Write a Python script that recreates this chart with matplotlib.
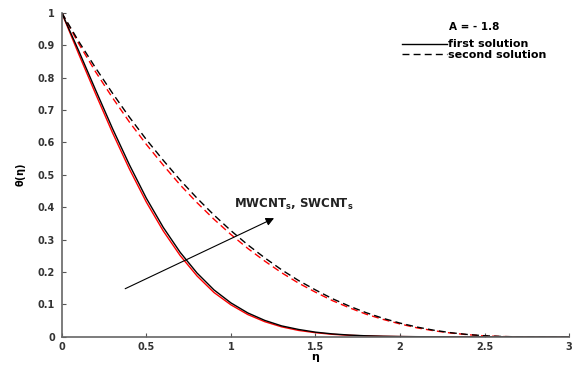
import matplotlib
matplotlib.use('Agg')
import matplotlib.pyplot as plt

plt.rcParams['font.family'] = ['DejaVu Sans']
plt.rcParams['mathtext.fontset'] = 'dejavusans'

eta = [i / 10 for i in range(31)]

# first solution (black = MWCNTs, red = SWCNTs)
first_black = [1.0, 0.883, 0.762, 0.643, 0.531, 0.428, 0.338, 0.261, 0.197, 0.145,
               0.105, 0.074, 0.051, 0.034, 0.023, 0.0147, 0.0093, 0.0057, 0.0034, 0.002,
               0.0012, 0.0007, 0.0004, 0.0002, 0.0001, 0, 0, 0, 0, 0, 0]
first_red = [1.0, 0.873, 0.750, 0.630, 0.518, 0.416, 0.327, 0.251, 0.188, 0.137,
             0.099, 0.069, 0.047, 0.031, 0.020, 0.013, 0.008, 0.005, 0.003, 0.0017,
             0.001, 0.0006, 0.0003, 0.0002, 0.0001, 0, 0, 0, 0, 0, 0]

# second solution
second_black = [1.0, 0.912, 0.830, 0.752, 0.678, 0.609, 0.545, 0.484, 0.428, 0.376,
                0.328, 0.284, 0.244, 0.207, 0.174, 0.145, 0.118, 0.095, 0.0747, 0.0573,
                0.0426, 0.0304, 0.0206, 0.013, 0.0074, 0.0036, 0.0013, 0.0002, 0, 0, 0]
second_red = [1.0, 0.905, 0.818, 0.738, 0.663, 0.594, 0.530, 0.469, 0.414, 0.363,
              0.316, 0.273, 0.234, 0.198, 0.166, 0.138, 0.112, 0.090, 0.070, 0.054,
              0.040, 0.028, 0.019, 0.012, 0.0068, 0.0033, 0.0012, 0.0002, 0, 0, 0]

xticks = [0, 0.5, 1, 1.5, 2, 2.5, 3]
xticklabels = ['0', '0.5', '1', '1.5', '2', '2.5', '3']
yticks = [i / 10 for i in range(11)]
yticklabels = ['0'] + ['0.%d' % i for i in range(1, 10)] + ['1']

fig = plt.figure(figsize=(5.72, 3.67), dpi=100)
ax = fig.add_axes([0.108, 0.082, 0.887, 0.883])

ax.plot(eta, first_red, color='red', lw=1.0)
ax.plot(eta, second_red, color='red', lw=1.0, ls=(0, (5, 3)))
l1, = ax.plot(eta, first_black, color='black', lw=1.0, label='first solution')
l2, = ax.plot(eta, second_black, color='black', lw=1.0, ls=(0, (5, 3)),
              label='second solution')

ax.set_xlim(0, 3)
ax.set_ylim(0, 1)
ax.set_xticks(xticks)
ax.set_xticklabels(xticklabels)
ax.set_yticks(yticks)
ax.set_yticklabels(yticklabels)
ax.tick_params(direction='in', length=3, width=0.8, color='#555555',
               labelsize=7, labelcolor='#333333')
ax.tick_params(axis='y', pad=5)
ax.tick_params(axis='x', pad=4)
for lab in ax.get_xticklabels() + ax.get_yticklabels():
    lab.set_fontweight('bold')

for side in ['top', 'right']:
    ax.spines[side].set_visible(False)
for side in ['left', 'bottom']:
    ax.spines[side].set_color('#666666')
    ax.spines[side].set_linewidth(1.2)

ax.set_xlabel(r'$\mathbf{\eta}$', fontsize=8, labelpad=0)
ax.set_ylabel(r'$\mathbf{\theta(\eta)}$', fontsize=7, labelpad=7)

ax.annotate('', xy=(1.27, 0.37), xytext=(0.36, 0.145),
            arrowprops=dict(arrowstyle='-|>', color='black', lw=0.8,
                            mutation_scale=12))
ax.text(1.02, 0.41, r'MWCNT$_\mathbf{s}$, SWCNT$_\mathbf{s}$', fontsize=8.5,
        fontweight='bold', color='#222222', va='center')

ax.text(2.44, 0.957, 'A = - 1.8', fontsize=7.5, fontweight='bold',
        ha='center', va='center')
leg = ax.legend(handles=[l1, l2], loc='upper left', bbox_to_anchor=(0.66, 0.935),
                frameon=False, fontsize=8, handlelength=4.0, handletextpad=0.1,
                labelspacing=0.05, borderpad=0)
for t in leg.get_texts():
    t.set_fontweight('bold')

fig.savefig('out.png', dpi=100)
